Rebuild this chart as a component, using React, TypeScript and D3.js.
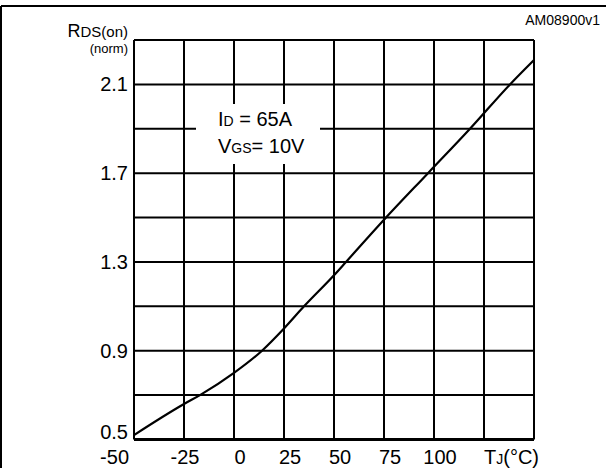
import * as React from 'react';
import * as d3 from 'd3';

// junction temperature (°C) vs normalized on-resistance
const tempC = [-50, -25, -17, 0, 14, 25, 35, 50, 56, 75, 97, 118, 138, 150];
const rdsNorm = [0.52, 0.66, 0.7, 0.8, 0.9, 1.0, 1.1, 1.24, 1.3, 1.49, 1.7, 1.9, 2.1, 2.21];

const xGrid = [-50, -25, 0, 25, 50, 75, 100, 125, 150];
const xTickLabels = ['-50', '-25', '0', '25', '50', '75', '100'];
const yGrid = [0.5, 0.7, 0.9, 1.1, 1.3, 1.5, 1.7, 1.9, 2.1, 2.3];
const yTickLabels = ['0.5', '0.9', '1.3', '1.7', '2.1'];

const W = 606, H = 468;
const FONT = '"Liberation Sans", Arial, Helvetica, sans-serif';

export default function App() {
    const x = d3.scaleLinear().domain([-50, 150]).range([134, 534]);
    const y = d3.scaleLinear().domain([0.5, 2.3]).range([439.5, 40]);

    const pts: [number, number][] = tempC.map((t, i) => [t, rdsNorm[i]]);
    const line = d3.line<[number, number]>()
        .curve(d3.curveMonotoneX)
        .x(d => x(d[0]))
        .y(d => y(d[1]));

    const xLabelPos = (v: number) => {
        if (v === -50) return { x: x(v) - 5, anchor: 'end' };
        if (v === -25) return { x: x(v) + 1, anchor: 'middle' };
        return { x: x(v) + 6, anchor: 'middle' };
    };

    return (
        <svg width={W} height={H} style={{ position: 'absolute', left: 0, top: 0, background: '#fff' }}
            fontFamily={FONT}>
            {/* outer frame, cut at right and bottom */}
            <line x1={1} y1={6} x2={W} y2={6} stroke="#000" strokeWidth={2} />
            <line x1={1} y1={6} x2={1} y2={H} stroke="#000" strokeWidth={2} />

            {/* grid */}
            {xGrid.map(v => (
                <line key={'vx' + v} x1={x(v)} x2={x(v)} y1={y(2.3)} y2={y(0.5)} stroke="#000" strokeWidth={2} />
            ))}
            {yGrid.map(v => (
                <line key={'hy' + v} x1={x(-50)} x2={x(150)} y1={y(v)} y2={y(v)} stroke="#000"
                    strokeWidth={v === 0.5 ? 2.8 : 2} />
            ))}

            {/* annotation box masks the grid */}
            <rect x={196} y={104} width={124} height={60} fill="#fff" />
            <text x={218} y={126} fontSize={20} fill="#000">
                I<tspan fontSize={14}>D</tspan> = 65A
            </text>
            <text x={218} y={153} fontSize={20} fill="#000">
                V<tspan fontSize={14}>GS</tspan>= 10V
            </text>

            {/* curve */}
            <path d={line(pts) || ''} fill="none" stroke="#000" strokeWidth={2.2} />

            {/* y tick labels */}
            {yTickLabels.map(t => {
                const v = +t;
                const base = v === 0.5 ? y(v) - 0.5 : y(v) + 7;
                return (
                    <text key={'yl' + t} x={128} y={base} textAnchor="end" fontSize={20} fill="#000">{t}</text>
                );
            })}

            {/* x tick labels */}
            {xTickLabels.map(t => {
                const p = xLabelPos(+t);
                return (
                    <text key={'xl' + t} x={p.x} y={464} textAnchor={p.anchor} fontSize={20} fill="#000">{t}</text>
                );
            })}

            {/* axis titles */}
            <text x={128} y={37} textAnchor="end" fill="#000">
                <tspan fontSize={18}>R</tspan><tspan fontSize={15}>DS(on)</tspan>
            </text>
            <text x={128} y={53} textAnchor="end" fontSize={13} fill="#000">(norm)</text>
            <text x={x(125)} y={464} fill="#000">
                <tspan fontSize={20}>T</tspan><tspan fontSize={14}>J</tspan><tspan fontSize={20}>(°C)</tspan>
            </text>
            <text x={600} y={25} textAnchor="end" fontSize={14} fill="#000">AM08900v1</text>
        </svg>
    );
}
